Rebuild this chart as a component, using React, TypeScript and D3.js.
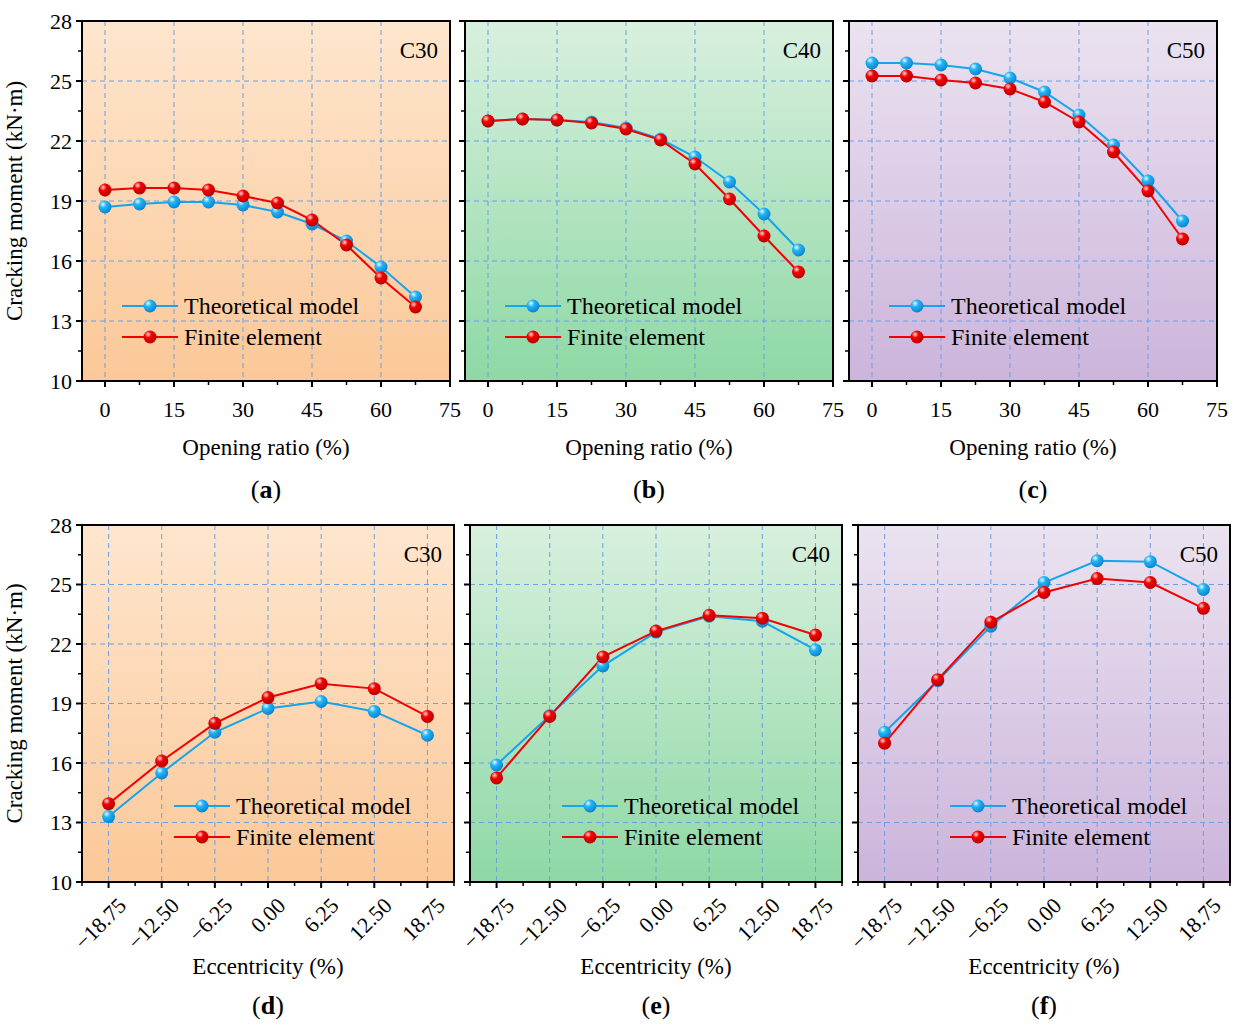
import React, { useEffect } from 'react'
import * as d3 from 'd3'

const openingRatio = [0, 7.5, 15, 22.5, 30, 37.5, 45, 52.5, 60, 67.5]
const eccentricity = [-18.75, -12.5, -6.25, 0, 6.25, 12.5, 18.75]
const openingTicks = [0, 15, 30, 45, 60, 75]
const eccTicks = ['−18.75', '−12.50', '−6.25', '0.00', '6.25', '12.50', '18.75']
const yTicks = [10, 13, 16, 19, 22, 25, 28]

const aTheo = [18.7, 18.85, 18.95, 18.95, 18.8, 18.45, 17.85, 17.0, 15.7, 14.2]
const aFe = [19.55, 19.65, 19.65, 19.55, 19.25, 18.9, 18.05, 16.8, 15.15, 13.7]
const bTheo = [23.0, 23.1, 23.05, 22.95, 22.65, 22.1, 21.2, 19.95, 18.35, 16.55]
const bFe = [23.0, 23.1, 23.05, 22.9, 22.6, 22.05, 20.85, 19.1, 17.25, 15.45]
const cTheo = [25.9, 25.9, 25.8, 25.6, 25.15, 24.45, 23.3, 21.8, 20.0, 18.0]
const cFe = [25.25, 25.25, 25.05, 24.9, 24.6, 23.95, 22.95, 21.45, 19.5, 17.1]
const dTheo = [13.3, 15.5, 17.55, 18.75, 19.1, 18.6, 17.4]
const dFe = [13.95, 16.1, 18.0, 19.3, 20.0, 19.75, 18.35]
const eTheo = [15.9, 18.4, 20.9, 22.6, 23.4, 23.15, 21.7]
const eFe = [15.25, 18.35, 21.35, 22.65, 23.45, 23.3, 22.45]
const fTheo = [17.55, 20.15, 22.9, 25.1, 26.2, 26.15, 24.75]
const fFe = [17.0, 20.2, 23.1, 24.6, 25.3, 25.1, 23.8]

const bgs: Record<string, [string, string]> = {
  orange: ['#fee6ce', '#fbc898'],
  green: ['#d8f0de', '#8ed8a5'],
  purple: ['#ebe3f0', '#ccb4db'],
}

const FONT = '"Liberation Serif", "Times New Roman", serif'

interface PanelProps {
  id: string
  left: number
  top: number
  width: number
  height: number
  kind: 'open' | 'ecc'
  theo: number[]
  fe: number[]
  grade: string
  bg: string
  letter: string
  showY: boolean
}

const Panel = ({ id, left, top, width, height, kind, theo, fe, grade, bg, letter, showY }: PanelProps) => {
  const xs = kind === 'open' ? openingRatio : eccentricity
  const x = kind === 'open'
    ? d3.scaleLinear().domain([-5, 75]).range([0, width])
    : d3.scaleLinear().domain([-21.875, 21.875]).range([0, width])
  const y = d3.scaleLinear().domain([10, 28]).range([height, 0])
  const line = d3.line<number>().x((_, i) => x(xs[i])).y(d => y(d))
  const majors = kind === 'open' ? openingTicks : eccentricity
  const minors = kind === 'open'
    ? d3.range(7.5, 75, 15)
    : d3.range(-21.875, 22, 6.25)
  const yMinors = d3.range(11.5, 28, 3)
  const gridX = kind === 'open' ? openingTicks.filter(t => t < 75) : eccentricity
  const legX = kind === 'open' ? 40 : 92
  const legY = kind === 'open' ? 285 : 281

  const marker = (cx: number, cy: number, color: string, key: string | number) => (
    <circle key={key} cx={cx} cy={cy} r={6.5} fill={`url(#${color === 'b' ? 'gb' : 'gr'})`} />
  )

  return (
    <g transform={`translate(${left},${top})`} fontFamily={FONT}>
      <defs>
        <linearGradient id={`bg${id}`} x1="0" y1="0" x2="0" y2="1">
          <stop offset="0" stopColor={bgs[bg][0]} />
          <stop offset="1" stopColor={bgs[bg][1]} />
        </linearGradient>
      </defs>
      <rect width={width} height={height} fill={`url(#bg${id})`} />
      {gridX.map(t => (
        <line key={'gx' + t} x1={x(t)} x2={x(t)} y1={0} y2={height} stroke="#6b9fe6" strokeWidth={1} strokeDasharray="5,4" />
      ))}
      {yTicks.slice(1, -1).map(t => (
        <line key={'gy' + t} x1={0} x2={width} y1={y(t)} y2={y(t)} stroke="#6b9fe6" strokeWidth={1} strokeDasharray="5,4" />
      ))}
      <rect width={width} height={height} fill="none" stroke="#000" strokeWidth={2} />
      {yTicks.map(t => (
        <g key={'yt' + t}>
          <line x1={-6} x2={0} y1={y(t)} y2={y(t)} stroke="#000" strokeWidth={2} />
          {showY && (
            <text x={-10} y={y(t)} dy="0.35em" textAnchor="end" fontSize={22}>{t}</text>
          )}
        </g>
      ))}
      {yMinors.map(t => (
        <line key={'ym' + t} x1={-4} x2={0} y1={y(t)} y2={y(t)} stroke="#000" strokeWidth={1.5} />
      ))}
      {majors.map((t, i) => (
        <g key={'xt' + t}>
          <line x1={x(t)} x2={x(t)} y1={height} y2={height + 6} stroke="#000" strokeWidth={2} />
          {kind === 'open' ? (
            <text x={x(t)} y={height + 36} textAnchor="middle" fontSize={22}>{t}</text>
          ) : (
            <text transform={`translate(${x(t) + 8},${height + 14}) rotate(-45)`} textAnchor="end" dy="0.7em" fontSize={22}>{eccTicks[i]}</text>
          )}
        </g>
      ))}
      {minors.map(t => (
        <line key={'xm' + t} x1={x(t)} x2={x(t)} y1={height} y2={height + 4} stroke="#000" strokeWidth={1.5} />
      ))}
      <path d={line(theo) ?? ''} fill="none" stroke="#14a5ee" strokeWidth={2} />
      <path d={line(fe) ?? ''} fill="none" stroke="#f20000" strokeWidth={2} />
      {theo.map((v, i) => marker(x(xs[i]), y(v), 'b', 't' + i))}
      {fe.map((v, i) => marker(x(xs[i]), y(v), 'r', 'f' + i))}
      <text x={width - 12} y={37} textAnchor="end" fontSize={23}>{grade}</text>
      <g transform={`translate(${legX},${legY})`}>
        <line x1={0} x2={56} y1={0} y2={0} stroke="#14a5ee" strokeWidth={2} />
        {marker(28, 0, 'b', 'lb')}
        <text x={62} y={0} dy="0.35em" fontSize={24}>Theoretical model</text>
        <line x1={0} x2={56} y1={31} y2={31} stroke="#f20000" strokeWidth={2} />
        {marker(28, 31, 'r', 'lr')}
        <text x={62} y={31} dy="0.35em" fontSize={24}>Finite element</text>
      </g>
      <text x={width / 2} y={kind === 'open' ? height + 74 : height + 92} textAnchor="middle" fontSize={23}>
        {kind === 'open' ? 'Opening ratio (%)' : 'Eccentricity (%)'}
      </text>
      <text x={width / 2} y={kind === 'open' ? height + 117 : height + 132} textAnchor="middle" fontSize={26}>
        (<tspan fontWeight="bold">{letter}</tspan>)
      </text>
      {showY && (
        <text transform={`translate(-60,${height / 2}) rotate(-90)`} textAnchor="middle" fontSize={23}>Cracking moment (kN·m)</text>
      )}
    </g>
  )
}

export default function App() {
  useEffect(() => {
    document.body.style.margin = '0'
  }, [])
  const tw = 368
  const bw = 372
  return (
    <svg width={1242} height={1030} style={{ display: 'block', background: '#fff' }}>
      <defs>
        <radialGradient id="gb" cx="0.35" cy="0.3" r="0.75">
          <stop offset="0" stopColor="#e8f8ff" />
          <stop offset="0.35" stopColor="#22b4f5" />
          <stop offset="1" stopColor="#0a7fcc" />
        </radialGradient>
        <radialGradient id="gr" cx="0.35" cy="0.3" r="0.75">
          <stop offset="0" stopColor="#ffd8d8" />
          <stop offset="0.35" stopColor="#f40000" />
          <stop offset="1" stopColor="#b00000" />
        </radialGradient>
      </defs>
      <Panel id="a" left={82} top={21} width={tw} height={360} kind="open" theo={aTheo} fe={aFe} grade="C30" bg="orange" letter="a" showY />
      <Panel id="b" left={465} top={21} width={tw} height={360} kind="open" theo={bTheo} fe={bFe} grade="C40" bg="green" letter="b" showY={false} />
      <Panel id="c" left={849} top={21} width={tw} height={360} kind="open" theo={cTheo} fe={cFe} grade="C50" bg="purple" letter="c" showY={false} />
      <Panel id="d" left={82} top={525} width={bw} height={357} kind="ecc" theo={dTheo} fe={dFe} grade="C30" bg="orange" letter="d" showY />
      <Panel id="e" left={470} top={525} width={bw} height={357} kind="ecc" theo={eTheo} fe={eFe} grade="C40" bg="green" letter="e" showY={false} />
      <Panel id="f" left={858} top={525} width={bw} height={357} kind="ecc" theo={fTheo} fe={fFe} grade="C50" bg="purple" letter="f" showY={false} />
    </svg>
  )
}
